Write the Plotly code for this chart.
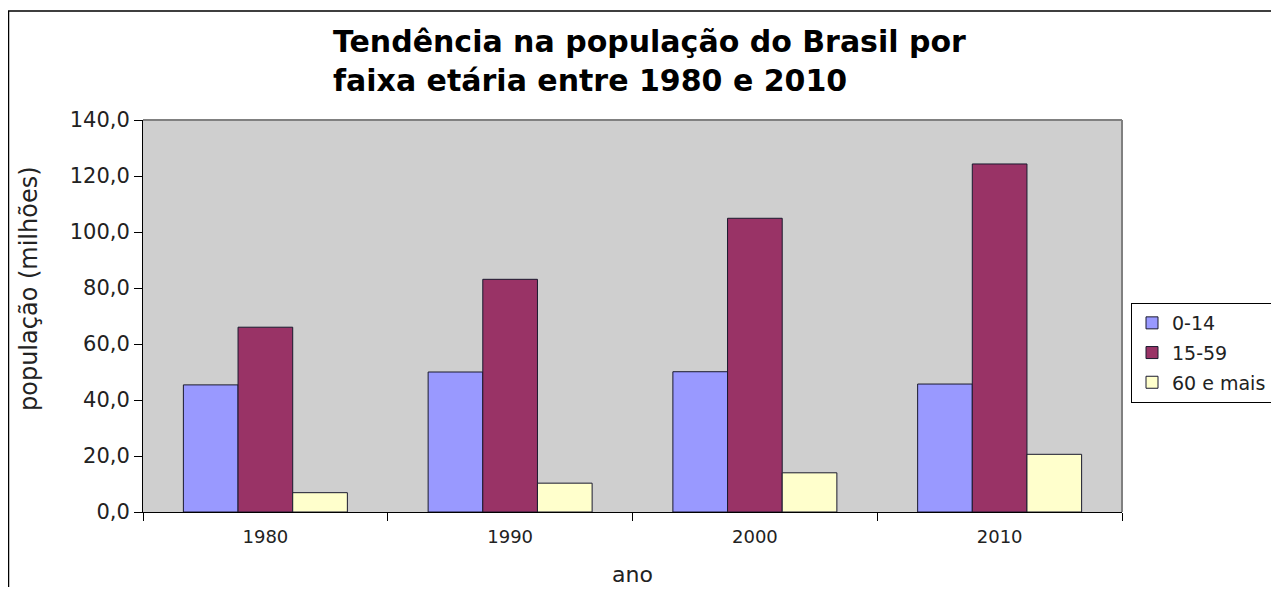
import plotly.graph_objects as go

anos = ["1980", "1990", "2000", "2010"]
faixa_0_14 = [45.4, 50.0, 50.1, 45.7]
faixa_15_59 = [66.0, 83.1, 104.9, 124.3]
faixa_60_mais = [6.9, 10.3, 14.0, 20.6]
series_nomes = ["0-14", "15-59", "60 e mais"]
cores = ["#9999ff", "#993366", "#ffffcc"]

fig = go.Figure()
for nome, vals, cor in zip(series_nomes, [faixa_0_14, faixa_15_59, faixa_60_mais], cores):
    fig.add_trace(go.Bar(
        x=anos, y=vals, name=nome, legendgroup=nome,
        marker=dict(color=cor, line=dict(color="#1a1a2e", width=1)),
    ))

# page has 8px body margin; figure drawn at (8,8)
W, H = 1263, 579
L, R, T, B = 135, 149, 112, 75
pw, ph = W - L - R, H - T - B

fig.update_layout(
    width=W, height=H,
    margin=dict(l=L, r=R, t=T, b=B, autoexpand=False),
    paper_bgcolor="white",
    plot_bgcolor="#cfcfcf",
    separators=", ",
    barmode="group",
    bargap=0.33,
    bargroupgap=0,
    font=dict(family="DejaVu Sans", size=18, color="#222222"),
    title=dict(
        text="Tendência na população do Brasil por<br>faixa etária entre 1980 e 2010",
        font=dict(family="DejaVu Sans", size=30, color="black", weight="bold"),
        x=325 / W, xanchor="left", xref="container",
        y=1 - 44 / H, yanchor="top", yref="container",
    ),
    legend=dict(
        x=(1123 - L) / pw, xanchor="left",
        y=(H - B - 295) / ph, yanchor="top",
        bordercolor="black", borderwidth=1,
        bgcolor="white",
        font=dict(size=19, color="#222222"),
        tracegroupgap=2,
    ),
    showlegend=True,
    annotations=[dict(
        text="população (milhões)", textangle=-90,
        xref="paper", yref="paper",
        x=(21 - L) / pw, y=(H - B - 281) / ph,
        xanchor="center", yanchor="middle", showarrow=False,
        font=dict(size=24, color="#222222"),
    )],
)

fig.update_xaxes(
    automargin=False,
    showline=True, linecolor="black", linewidth=1,
    ticks="outside", tickson="boundaries", ticklen=8, tickcolor="black",
    showgrid=False,
    tickfont=dict(size=18),
    ticklabelstandoff=8,
    title=dict(text="ano", font=dict(size=22, color="#222222"), standoff=22),
)
fig.update_yaxes(
    automargin=False,
    range=[0, 140], dtick=20, tickformat=".1f",
    showline=True, linecolor="black", linewidth=1,
    ticks="outside", ticklen=8, tickcolor="black",
    showgrid=False, zeroline=False,
    tickfont=dict(size=21),
)

# gray border on top/right of plot wall
fig.add_shape(type="line", xref="paper", yref="paper", x0=0, x1=1, y0=1, y1=1,
              line=dict(color="#808080", width=2))
fig.add_shape(type="line", xref="paper", yref="paper", x0=1, x1=1, y0=0, y1=1,
              line=dict(color="#808080", width=2))
# outer frame
fig.add_shape(type="rect", xref="paper", yref="paper",
              x0=(0.5 - L) / pw, x1=(W + 10 - L) / pw,
              y0=(H - B - (H + 10)) / ph, y1=(H - B - 3) / ph,
              line=dict(color="black", width=1.5), layer="below")

fig.write_html("out.html")
